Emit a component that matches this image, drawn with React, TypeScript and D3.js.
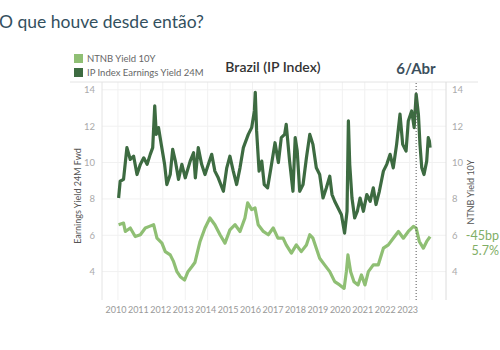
import React, { useEffect, useRef } from "react";
import * as d3 from "d3";

// IP Index earnings yield 24M fwd (dark green), dates as decimal years
const earningsDates = [
  2010.03, 2010.1, 2010.25, 2010.4, 2010.55, 2010.7, 2010.85, 2011.0, 2011.15, 2011.3,
  2011.44, 2011.55, 2011.64, 2011.71, 2011.81, 2011.93, 2012.08, 2012.18, 2012.33, 2012.44,
  2012.56, 2012.7, 2012.85, 2013.0, 2013.22, 2013.37, 2013.45, 2013.58, 2013.73, 2013.88,
  2014.03, 2014.18, 2014.32, 2014.47, 2014.7, 2014.85, 2014.99, 2015.14, 2015.29, 2015.44,
  2015.59, 2015.81, 2015.96, 2016.08, 2016.12, 2016.18, 2016.29, 2016.41, 2016.52, 2016.67,
  2016.82, 2017.0, 2017.15, 2017.28, 2017.43, 2017.5, 2017.65, 2017.8, 2017.9, 2017.99,
  2018.1, 2018.25, 2018.4, 2018.55, 2018.69, 2018.84, 2018.99, 2019.14, 2019.29, 2019.44,
  2019.54, 2019.66, 2019.81, 2019.96, 2020.1, 2020.21, 2020.27, 2020.33, 2020.43, 2020.55,
  2020.67, 2020.79, 2020.94, 2021.09, 2021.24, 2021.38, 2021.5, 2021.65, 2021.83, 2021.98,
  2022.13, 2022.27, 2022.42, 2022.57, 2022.69, 2022.84, 2022.94, 2023.09, 2023.2, 2023.29,
  2023.39, 2023.46, 2023.54, 2023.64, 2023.76, 2023.83, 2023.88, 2023.91,
];
const earningsYield = [
  8.05, 8.97, 9.07, 10.82, 10.17, 10.35, 9.34, 9.9, 10.26, 9.9,
  10.45, 10.82, 13.12, 11.55, 11.92, 11.0, 9.9, 8.79, 9.34, 10.72,
  10.08, 9.07, 9.9, 9.16, 10.08, 10.54, 9.16, 10.82, 9.9, 9.34,
  9.9, 10.45, 9.53, 9.16, 8.42, 9.71, 10.35, 9.53, 8.79, 9.71,
  10.82, 11.55, 11.92, 12.84, 13.86, 11.74, 9.53, 10.08, 8.79, 8.61,
  9.71, 11.09, 10.0, 11.37, 11.55, 12.1, 10.08, 8.42, 11.37, 10.63,
  8.42, 8.79, 10.26, 11.55, 11.0, 9.71, 9.34, 8.05, 8.61, 9.25,
  8.24, 7.87, 7.5, 7.13, 6.12, 7.32, 12.29, 9.9, 8.05, 6.95,
  7.32, 8.05, 7.32, 8.24, 7.87, 8.61, 7.69, 8.42, 9.53, 9.9,
  10.45, 9.71, 11.0, 12.66, 11.0, 10.63, 12.29, 12.84, 11.92, 13.76,
  12.66, 11.0, 9.71, 9.34, 10.08, 11.37, 11.18, 10.82,
];

// NTNB yield 10Y (light green)
const ntnbDates = [
  2010.03, 2010.25, 2010.33, 2010.55, 2010.77, 2011.0, 2011.22, 2011.4, 2011.59, 2011.74,
  2011.96, 2012.11, 2012.33, 2012.48, 2012.63, 2012.78, 2012.97, 2013.12, 2013.3, 2013.43,
  2013.66, 2013.88, 2014.1, 2014.32, 2014.55, 2014.77, 2014.99, 2015.22, 2015.44, 2015.66,
  2015.78, 2015.96, 2016.11, 2016.25, 2016.48, 2016.7, 2016.92, 2017.13, 2017.36, 2017.5,
  2017.73, 2017.95, 2018.17, 2018.4, 2018.55, 2018.69, 2018.84, 2018.99, 2019.21, 2019.44,
  2019.66, 2019.88, 2020.08, 2020.18, 2020.25, 2020.37, 2020.52, 2020.7, 2020.85, 2021.01,
  2021.16, 2021.38, 2021.6, 2021.83, 2022.05, 2022.27, 2022.5, 2022.72, 2022.94, 2023.17,
  2023.29, 2023.43, 2023.61, 2023.76, 2023.91,
];
const ntnbYield = [
  6.58, 6.67, 6.21, 6.4, 5.93, 6.03, 6.4, 6.49, 6.58, 5.84,
  5.57, 5.1, 4.92, 4.55, 4.0, 3.72, 3.54, 4.0, 4.28, 4.5,
  5.66, 6.4, 6.95, 6.58, 6.03, 5.57, 6.3, 6.58, 6.21, 6.95,
  7.78, 7.41, 7.5, 6.58, 6.21, 6.03, 6.4, 5.84, 5.84, 5.47,
  5.02, 5.47, 5.1, 5.47, 6.03, 5.84, 5.29, 4.74, 4.37, 4.0,
  3.45, 3.27, 3.08, 4.0, 4.92, 4.0, 3.45, 3.27, 3.82, 3.27,
  4.0, 4.37, 4.37, 5.29, 5.47, 5.84, 6.21, 5.84, 6.21, 6.49,
  6.4, 5.66, 5.29, 5.66, 5.93,
];

const yearTicks = d3.range(2010, 2024);
const yTicks = [4, 6, 8, 10, 12, 14];
const markerDate = 2023.29;

const DARK = "#3d6b41";
const LIGHT = "#8fbf74";
const FONT = "Lato, 'Open Sans', sans-serif";

function createChart(el: SVGSVGElement) {
  const svg = d3.select(el);
  svg.selectAll("*").remove();

  const left = 102,
    right = 446,
    top = 82,
    bottom = 300;

  const x = d3.scaleLinear().domain([2009.29, 2024.62]).range([left, right]);
  const y = d3.scaleLinear().domain([2.44, 14.43]).range([bottom, top]);

  // page header
  svg
    .append("text")
    .attr("x", -1)
    .attr("y", 28)
    .attr("font-family", FONT)
    .attr("font-size", 17.5)
    .attr("fill", "#33505e")
    .text("O que houve desde então?");

  // legend
  const legend = [
    { label: "NTNB Yield 10Y", color: LIGHT },
    { label: "IP Index Earnings Yield 24M", color: DARK },
  ];
  legend.forEach((d, i) => {
    svg
      .append("rect")
      .attr("x", 74)
      .attr("y", 54 + i * 14)
      .attr("width", 9)
      .attr("height", 9)
      .attr("fill", d.color);
    svg
      .append("text")
      .attr("x", 87)
      .attr("y", 62 + i * 14)
      .attr("font-family", FONT)
      .attr("font-size", 9.5)
      .attr("fill", "#666")
      .text(d.label);
  });

  svg
    .append("text")
    .attr("x", 273)
    .attr("y", 72)
    .attr("text-anchor", "middle")
    .attr("font-family", FONT)
    .attr("font-size", 14)
    .attr("font-weight", 600)
    .attr("fill", "#333")
    .text("Brazil (IP Index)");

  svg
    .append("text")
    .attr("x", 416)
    .attr("y", 74)
    .attr("text-anchor", "middle")
    .attr("font-family", FONT)
    .attr("font-size", 15)
    .attr("font-weight", 700)
    .attr("fill", "#3c4f5d")
    .text("6/Abr");

  // gridlines
  svg
    .append("g")
    .selectAll("line")
    .data(yearTicks.concat([2024]))
    .join("line")
    .attr("x1", (d) => x(d))
    .attr("x2", (d) => x(d))
    .attr("y1", top)
    .attr("y2", bottom)
    .attr("stroke", "#f1f1f1");
  svg
    .append("g")
    .selectAll("line")
    .data(yTicks)
    .join("line")
    .attr("x1", left)
    .attr("x2", right)
    .attr("y1", (d) => y(d))
    .attr("y2", (d) => y(d))
    .attr("stroke", "#f1f1f1");

  // frame
  svg.append("line").attr("x1", 70).attr("x2", 478).attr("y1", top).attr("y2", top).attr("stroke", "#e4e4e4");
  svg.append("line").attr("x1", left).attr("x2", left).attr("y1", top).attr("y2", bottom).attr("stroke", "#e4e4e4");
  svg.append("line").attr("x1", right).attr("x2", right).attr("y1", top).attr("y2", bottom).attr("stroke", "#dcdcdc");

  // axis labels
  svg
    .append("g")
    .selectAll("text")
    .data(yTicks)
    .join("text")
    .attr("x", 95)
    .attr("y", (d) => y(d) + 3.5)
    .attr("text-anchor", "end")
    .attr("font-family", FONT)
    .attr("font-size", 9.5)
    .attr("fill", "#aaa")
    .text((d) => d);
  svg
    .append("g")
    .selectAll("text")
    .data(yTicks)
    .join("text")
    .attr("x", 452)
    .attr("y", (d) => y(d) + 3.5)
    .attr("font-family", FONT)
    .attr("font-size", 9.5)
    .attr("fill", "#aaa")
    .text((d) => d);
  svg
    .append("g")
    .selectAll("text")
    .data(yearTicks)
    .join("text")
    .attr("x", (d) => x(d) - 2)
    .attr("y", 313)
    .attr("text-anchor", "middle")
    .attr("font-family", FONT)
    .attr("font-size", 9)
    .attr("fill", "#999")
    .text((d) => d);

  svg
    .append("text")
    .attr("transform", "translate(81,196) rotate(-90)")
    .attr("text-anchor", "middle")
    .attr("font-family", FONT)
    .attr("font-size", 9)
    .attr("fill", "#555")
    .text("Earnings Yield 24M Fwd");
  svg
    .append("text")
    .attr("transform", "translate(474,192) rotate(-90)")
    .attr("text-anchor", "middle")
    .attr("font-family", FONT)
    .attr("font-size", 9)
    .attr("fill", "#555")
    .text("NTNB Yield 10Y");

  // series
  const line = d3
    .line<[number, number]>()
    .x((d) => x(d[0]))
    .y((d) => y(d[1]));

  const ntnb = ntnbDates.map((d, i) => [d, ntnbYield[i]] as [number, number]);
  const earnings = earningsDates.map((d, i) => [d, earningsYield[i]] as [number, number]);

  svg
    .append("path")
    .datum(ntnb)
    .attr("d", line)
    .attr("fill", "none")
    .attr("stroke", LIGHT)
    .attr("stroke-width", 3.2)
    .attr("stroke-linejoin", "round");
  svg
    .append("path")
    .datum(earnings)
    .attr("d", line)
    .attr("fill", "none")
    .attr("stroke", DARK)
    .attr("stroke-width", 3.2)
    .attr("stroke-linejoin", "round");

  // marker line
  svg
    .append("line")
    .attr("x1", x(markerDate))
    .attr("x2", x(markerDate))
    .attr("y1", top + 1)
    .attr("y2", bottom)
    .attr("stroke", "#555")
    .attr("stroke-width", 1)
    .attr("stroke-dasharray", "1,2");

  // annotation
  svg
    .append("text")
    .attr("x", 499)
    .attr("y", 240)
    .attr("text-anchor", "end")
    .attr("font-family", FONT)
    .attr("font-size", 12.5)
    .attr("fill", "#7fae66")
    .text("-45bp");
  svg
    .append("text")
    .attr("x", 499)
    .attr("y", 255)
    .attr("text-anchor", "end")
    .attr("font-family", FONT)
    .attr("font-size", 12.5)
    .attr("fill", "#7fae66")
    .text("5.7%");
}

export default function App() {
  const ref = useRef<SVGSVGElement>(null);
  useEffect(() => {
    if (ref.current) createChart(ref.current);
  }, []);
  return (
    <div style={{ position: "absolute", left: 0, top: 0 }}>
      <svg ref={ref} width={500} height={350} style={{ display: "block", background: "#fff" }} />
    </div>
  );
}
